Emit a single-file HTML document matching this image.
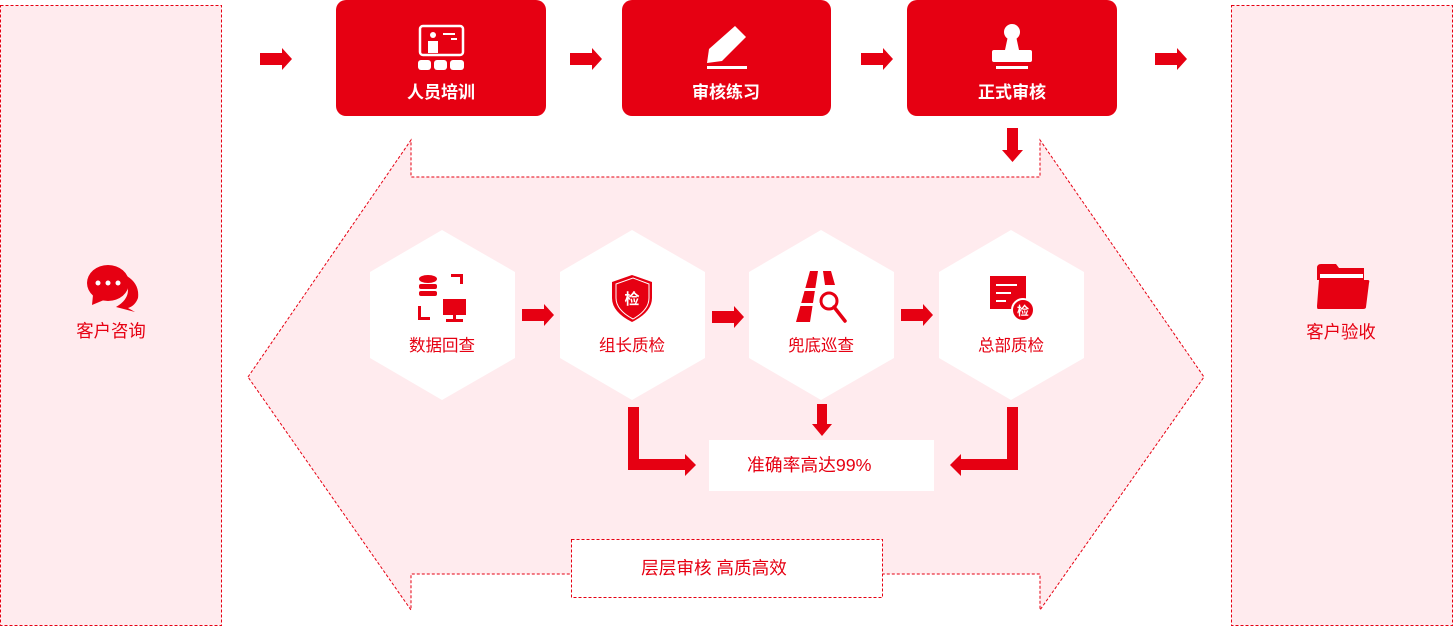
<!DOCTYPE html>
<html><head><meta charset="utf-8"><style>
html,body{margin:0;padding:0;background:#fff;}
svg{display:block;}
text{font-family:"Liberation Sans","Noto Sans CJK SC",sans-serif;}
</style></head><body>
<svg width="1453" height="626" viewBox="0 0 1453 626" xmlns="http://www.w3.org/2000/svg">
<defs>
<g id="ra"><path d="M0,-6 H22 V-11 L32,0 L22,11 V6 H0 Z" fill="#e60012"/></g>
</defs>
<rect x="0.5" y="5.5" width="221" height="620" fill="#ffebee" stroke="#e60012" stroke-dasharray="3,2"/>
<rect x="1231.5" y="5.5" width="221" height="620" fill="#ffebee" stroke="#e60012" stroke-dasharray="3,2"/>
<path d="M248,377 L411,140 V177 H1040 V140 L1204,377 L1040,610 V574 H411 V610 Z" fill="#ffebee" stroke="#e60012" stroke-dasharray="3,2" stroke-width="1"/>
<rect x="571.5" y="539.5" width="311" height="58" fill="#fff" stroke="#e60012" stroke-dasharray="3,2"/>
<text x="714" y="574" font-size="17.6" fill="#e60012" text-anchor="middle">层层审核 高质高效</text>
<rect x="336" y="0" width="210" height="116" rx="10" fill="#e60012"/>
<rect x="622" y="0" width="209" height="116" rx="10" fill="#e60012"/>
<rect x="907" y="0" width="210" height="116" rx="10" fill="#e60012"/>
<text x="441" y="98" font-size="17" font-weight="bold" fill="#fff" text-anchor="middle">人员培训</text>
<text x="726" y="98" font-size="17" font-weight="bold" fill="#fff" text-anchor="middle">审核练习</text>
<text x="1012" y="98" font-size="17" font-weight="bold" fill="#fff" text-anchor="middle">正式审核</text>
<g fill="none" stroke="#fff" stroke-width="2.5">
<rect x="420" y="26" width="43" height="29" rx="3"/>
</g>
<g fill="#fff">
<circle cx="433" cy="35" r="3"/><path d="M428,41 h10 v12 h-10z"/>
<rect x="443" y="33" width="12" height="2"/><rect x="451" y="38" width="6" height="2"/>
<rect x="418" y="60" width="13" height="10" rx="3"/><rect x="434" y="60" width="13" height="10" rx="3"/><rect x="450" y="60" width="14" height="10" rx="3"/>
</g>
<g fill="#fff">
<path d="M735,26 L746,37 L722,61 L707,63 L709,49 Z"/>
<rect x="707" y="66" width="40" height="3"/>
</g>
<g fill="#fff">
<circle cx="1012" cy="32" r="8"/><path d="M1008,36 h8 l3,14 h-14 z"/>
<rect x="992" y="50" width="40" height="12" rx="2"/>
<rect x="996" y="66" width="32" height="3"/>
</g>
<use href="#ra" x="260" y="59"/><use href="#ra" x="570" y="59"/><use href="#ra" x="861" y="59"/><use href="#ra" x="1155" y="59"/>
<path d="M1007,128 H1018 V150 H1023 L1012.5,162 L1002,150 H1007 Z" fill="#e60012"/>
<g fill="#fff">
<path d="M442,230 L515,272 V358 L442,400 L370,358 V272 Z"/>
<path d="M632,230 L705,272 V358 L632,400 L560,358 V272 Z"/>
<path d="M821,230 L894,272 V358 L821,400 L749,358 V272 Z"/>
<path d="M1011,230 L1084,272 V358 L1011,400 L939,358 V272 Z"/>
</g>
<text x="442" y="351" font-size="16.5" fill="#e60012" text-anchor="middle">数据回查</text>
<text x="632" y="351" font-size="16.5" fill="#e60012" text-anchor="middle">组长质检</text>
<text x="821" y="351" font-size="16.5" fill="#e60012" text-anchor="middle">兜底巡查</text>
<text x="1011" y="351" font-size="16.5" fill="#e60012" text-anchor="middle">总部质检</text>
<g fill="#e60012">
<ellipse cx="428" cy="279" rx="9" ry="4"/><rect x="419" y="284" width="18" height="5" rx="2"/><rect x="419" y="291" width="18" height="5" rx="2"/>
<rect x="443" y="299" width="23" height="16"/><rect x="453" y="314" width="3" height="5"/><rect x="446" y="319" width="17" height="3"/>
<path d="M451,274 h12 v10 h-3 v-7 h-9z"/><path d="M418,306 h3 v11 h9 v3 h-12z"/>
<path d="M632,275 L652,282 V298 Q652,312 632,322 Q612,312 612,298 V282 Z"/>
<path d="M818,271 h-8 L796,322 h14 Z M823,271 h8 l4,14 h-10 Z"/>
<path d="M990,276 h36 v33 h-36 z" />
</g>
<path d="M633,278 L649,284 V298 Q649,310 633,319 Q616,310 616,298 V284 Z" fill="none" stroke="#fff" stroke-width="1"/>
<text x="632" y="304" font-size="15" font-weight="bold" fill="#fff" text-anchor="middle">检</text>
<circle cx="829" cy="301" r="8" fill="#fff" stroke="#e60012" stroke-width="3"/>
<path d="M834,307 L845,321" stroke="#e60012" stroke-width="3.5" stroke-linecap="round"/>
<rect x="796" y="288" width="30" height="3" fill="#fff"/><rect x="800" y="303" width="20" height="3" fill="#fff"/>
<g fill="#fff"><rect x="996" y="284" width="21" height="2"/><rect x="996" y="292" width="15" height="2"/><rect x="996" y="300" width="10" height="2"/></g>
<circle cx="1023" cy="310" r="11" fill="#e60012" stroke="#fff" stroke-width="2"/>
<text x="1023" y="315" font-size="12" font-weight="bold" fill="#fff" text-anchor="middle">检</text>
<use href="#ra" x="522" y="315"/><use href="#ra" x="712" y="317"/><use href="#ra" x="901" y="315"/>
<path d="M628,407 H639 V459 H685 V454 L696,465 L685,476 V470 H628 Z" fill="#e60012"/>
<path d="M1018,407 H1007 V459 H961 V454 L950,465 L961,476 V470 H1018 Z" fill="#e60012"/>
<path d="M817,404 H827 V424 H832 L822,436 L812,424 H817 Z" fill="#e60012"/>
<rect x="709" y="440" width="225" height="51" fill="#fff"/>
<text x="747" y="471" font-size="17.8" fill="#e60012">准确率高达99%</text>
<g fill="#e60012">
<path d="M123,274 Q140,282 138,298 Q135,306 128,308 L135,312 L116,307 Q128,300 128,290 Q128,280 123,274 Z"/>
<ellipse cx="108" cy="283" rx="21" ry="18"/><path d="M93,295 L92,305 L104,300 Z"/>
</g>
<g fill="#fff"><circle cx="98" cy="283" r="2.5"/><circle cx="108" cy="283" r="2.5"/><circle cx="118" cy="283" r="2.5"/></g>
<text x="111" y="337" font-size="17.4" fill="#e60012" text-anchor="middle">客户咨询</text>
<path d="M1317,268 Q1317,264 1321,264 H1336 L1339,268 H1364 V280 H1317 Z" fill="#e60012"/>
<path d="M1320,274 H1363 V278 H1320Z" fill="#fff"/>
<path d="M1319,280 H1368 Q1370,280 1369,283 L1366,307 Q1366,309 1363,309 H1318 Q1317,309 1317,306 Z" fill="#e60012"/>
<text x="1341" y="338" font-size="17.4" fill="#e60012" text-anchor="middle">客户验收</text>
</svg>
</body></html>
